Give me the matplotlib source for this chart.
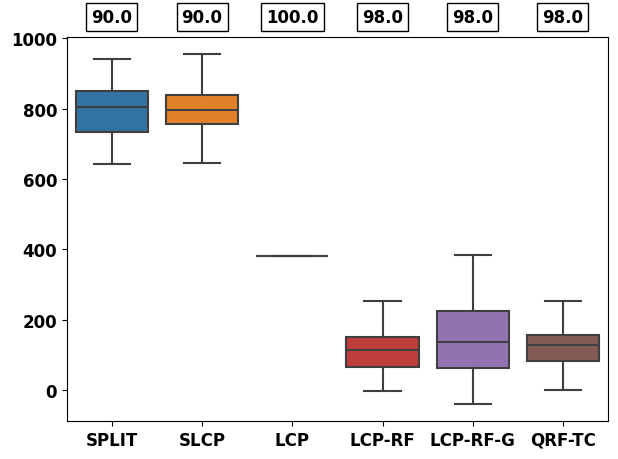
import matplotlib
matplotlib.use("Agg")
import matplotlib.pyplot as plt

methods = ["SPLIT", "SLCP", "LCP", "LCP-RF", "LCP-RF-G", "QRF-TC"]
whislo = [642, 644, 380, -2, -39, 1]
q1 = [733, 757, 380, 66, 62, 82]
med = [804, 795, 380, 114, 137, 129]
q3 = [849, 840, 380, 151, 225, 157]
whishi = [942, 954, 380, 253, 383, 253]
coverage = ["90.0", "90.0", "100.0", "98.0", "98.0", "98.0"]
colors = ["#3274a1", "#e1812c", "#3a923a", "#c03d3e", "#9372b2", "#845b53"]

stats = []
for i, m in enumerate(methods):
    stats.append(dict(label=m, whislo=whislo[i], q1=q1[i], med=med[i],
                      q3=q3[i], whishi=whishi[i], fliers=[]))

fig = plt.figure(figsize=(6.18, 4.6), dpi=100)
ax = fig.add_axes([0.108, 0.0826, 0.876, 0.8344])
lc = "#3f3f3f"
bp = ax.bxp(stats, positions=range(len(methods)), widths=0.8, patch_artist=True,
            showfliers=False,
            boxprops=dict(edgecolor=lc, linewidth=1.5),
            medianprops=dict(color=lc, linewidth=1.5),
            whiskerprops=dict(color=lc, linewidth=1.5),
            capprops=dict(color=lc, linewidth=1.5))
for patch, c in zip(bp["boxes"], colors):
    patch.set_facecolor(c)
for cap in bp["caps"]:
    x0, x1 = cap.get_xdata()
    xc = (x0 + x1) / 2
    cap.set_xdata([xc - 0.2, xc + 0.2])

ax.set_xlim(-0.5, len(methods) - 0.5)
ax.set_ylim(-88, 1003)
ax.set_xticks(range(len(methods)))
ax.set_xticklabels(methods, fontsize=12, fontweight="bold")
ax.set_yticks([0, 200, 400, 600, 800, 1000])
ax.set_yticklabels(["0", "200", "400", "600", "800", "1000"], fontsize=12, fontweight="bold")

for i, t in enumerate(coverage):
    ax.text(i, 1.052, t, transform=ax.get_xaxis_transform(), ha="center", va="center",
            fontsize=12, fontweight="bold",
            bbox=dict(boxstyle="square,pad=0.3", facecolor="white", edgecolor="black"))

fig.savefig("out.png", dpi=100)
